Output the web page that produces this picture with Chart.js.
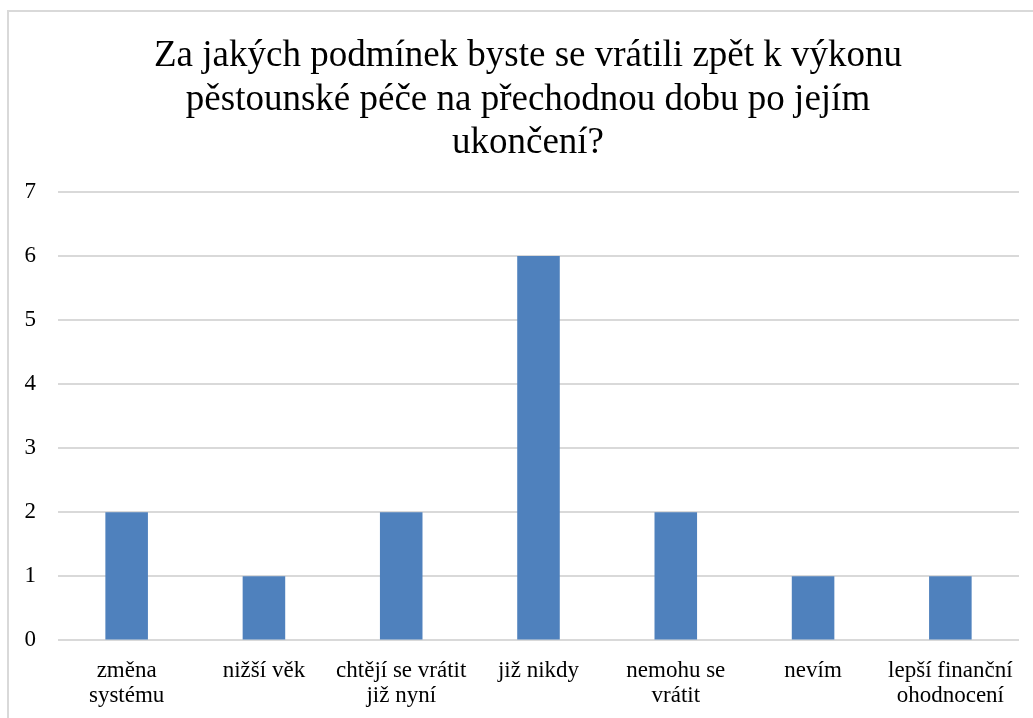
<!DOCTYPE html>
<html>
<head>
<meta charset="utf-8">
<script src="https://cdn.jsdelivr.net/npm/chart.js@4.4.1/dist/chart.umd.min.js"></script>
<style>
  html, body { margin: 0; padding: 0; background: #fff; overflow: hidden; }
  #frame { position: absolute; left: 7px; top: 10px; width: 1100px; height: 760px; border: 2px solid #d9d9d9; box-sizing: border-box; background: #fff; }
  #wrap { position: absolute; left: 0px; top: 0px; width: 1038px; height: 720px; }
</style>
</head>
<body>
<div id="frame"><div id="wrap"><canvas id="c"></canvas></div></div>
<script>
const titleLines = ["Za jakých podmínek byste se vrátili zpět k výkonu", "pěstounské péče na přechodnou dobu po jejím", "ukončení?"];
const categories = [["změna", "systému"], "nižší věk", ["chtějí se vrátit", "již nyní"], "již nikdy", ["nemohu se", "vrátit"], "nevím", ["lepší finanční", "ohodnocení"]];
const values = [2, 1, 2, 6, 2, 1, 1];
const yTicks = [0, 1, 2, 3, 4, 5, 6, 7];
const serif = '"Liberation Serif", "Times New Roman", serif';

new Chart(document.getElementById('c'), {
  type: 'bar',
  data: {
    labels: categories,
    datasets: [{
      data: values,
      backgroundColor: '#4F81BD',
      categoryPercentage: 1.0,
      barPercentage: 0.31
    }]
  },
  options: {
    responsive: true,
    maintainAspectRatio: false,
    animation: false,
    layout: { padding: { left: 0, right: 0, top: 23, bottom: 13 } },
    plugins: {
      legend: { display: false },
      tooltip: { enabled: false },
      title: {
        display: true,
        text: titleLines,
        color: '#000',
        font: { family: serif, size: 37, weight: 'normal', lineHeight: 1.17 },
        padding: { top: 0, bottom: 27 }
      }
    },
    scales: {
      x: {
        grid: { display: false },
        border: { display: false },
        ticks: {
          color: '#000',
          font: { family: serif, size: 23, lineHeight: 1.1 },
          maxRotation: 0,
          autoSkip: false,
          padding: 10
        }
      },
      y: {
        min: 0,
        max: 7,
        afterBuildTicks: (s) => { s.ticks = yTicks.map(v => ({ value: v })); },
        afterFit: (s) => { s.width = 49; },
        grid: { color: '#d9d9d9', lineWidth: 2, drawTicks: false },
        border: { display: false },
        ticks: {
          color: '#000',
          font: { family: serif, size: 23 },
          padding: 22
        }
      },
      yPad: {
        type: 'linear',
        position: 'right',
        display: true,
        grid: { display: false },
        border: { display: false },
        ticks: { display: false },
        afterFit: (s) => { s.width = 28; }
      }
    }
  }
});
</script>
</body>
</html>
